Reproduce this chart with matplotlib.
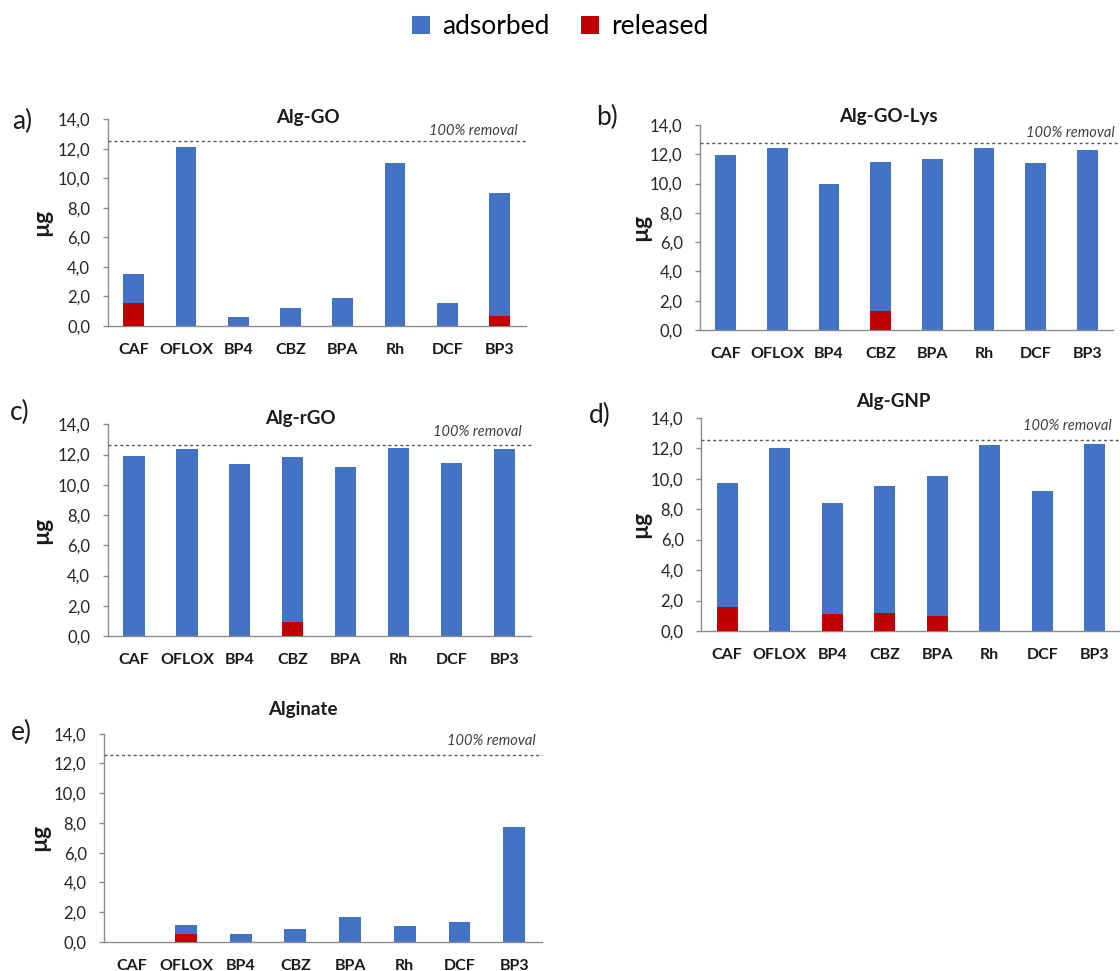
import matplotlib
matplotlib.use("Agg")
import matplotlib.pyplot as plt
from matplotlib.ticker import FuncFormatter
from matplotlib.patches import Patch

plt.rcParams['font.family'] = ['Lato', 'DejaVu Sans']

# ---------------- data ----------------
categories = ["CAF", "OFLOX", "BP4", "CBZ", "BPA", "Rh", "DCF", "BP3"]

panel_letters = ["a)", "b)", "c)", "d)", "e)"]
panel_titles = ["Alg-GO", "Alg-GO-Lys", "Alg-rGO", "Alg-GNP", "Alginate"]

# total adsorbed amount (µg)
adsorbed_a = [3.52, 12.12, 0.63, 1.20, 1.92, 11.02, 1.58, 9.03]
adsorbed_b = [11.95, 12.44, 9.98, 11.46, 11.71, 12.44, 11.42, 12.28]
adsorbed_c = [11.90, 12.37, 11.35, 11.86, 11.16, 12.46, 11.46, 12.37]
adsorbed_d = [9.74, 11.99, 8.38, 9.49, 10.20, 12.19, 9.17, 12.25]
adsorbed_e = [0.00, 1.14, 0.54, 0.90, 1.66, 1.05, 1.32, 7.75]

# released amount (µg)
released_a = [1.58, 0, 0, 0, 0, 0, 0, 0.68]
released_b = [0, 0, 0, 1.30, 0, 0, 0, 0]
released_c = [0, 0, 0, 0.95, 0, 0, 0, 0]
released_d = [1.55, 0, 1.12, 1.16, 0.98, 0, 0, 0]
released_e = [0, 0.54, 0, 0, 0, 0, 0, 0]

# 100% removal reference level (µg)
removal_level = [12.5, 12.75, 12.6, 12.55, 12.57]

yticks = [0, 2, 4, 6, 8, 10, 12, 14]

adsorbed_all = [adsorbed_a, adsorbed_b, adsorbed_c, adsorbed_d, adsorbed_e]
released_all = [released_a, released_b, released_c, released_d, released_e]

# ---------------- layout (pixels) ----------------
W, H = 1120, 971
BLUE = "#4472C4"
RED = "#C00000"
AXCOL = "#8C8C8C"

# (left, top, right, bottom) of plot areas in pixels
rects = [(107.6, 119.3, 525.7, 326.0),
         (700.0, 125.0, 1113.0, 330.0),
         (107.6, 424.3, 530.8, 636.0),
         (701.0, 417.7, 1121.0, 631.0),
         (104.0, 733.7, 541.5, 942.0)]
title_pos = [(308, 118), (888, 116.7), (300, 418.3), (893, 401), (303, 710)]
letter_pos = [(22, 121), (607, 117), (20, 412), (600, 415), (21, 732)]
removal_txt = [(518, 131), (1115, 132.7), (521.5, 432.3), (1111.7, 426), (536, 741)]
ylabel_x = [42, 641, 42, 641, 40]
dash_extend = [1.0, 1.02, 1.0, 1.0, 1.0]

fig = plt.figure(figsize=(W / 100, H / 100), dpi=100)

def fx(x):
    return x / W

def fy(y):
    return 1 - y / H

fmt = FuncFormatter(lambda v, p: f"{v:.1f}".replace(".", ","))

for i in range(5):
    l, t, r, b = rects[i]
    ax = fig.add_axes([fx(l), fy(b), (r - l) / W, (b - t) / H])
    x = list(range(len(categories)))
    ax.bar(x, adsorbed_all[i], width=0.4, color=BLUE, zorder=2)
    ax.bar(x, released_all[i], width=0.4, color=RED, zorder=3)
    ax.set_xlim(-0.5, len(categories) - 0.5)
    ax.set_ylim(0, 14)
    ax.set_yticks(yticks)
    ax.yaxis.set_major_formatter(fmt)
    ax.set_xticks(x)
    ax.set_xticklabels(categories, fontsize=11.5, fontweight="bold", color="#1a1a1a")
    for s in ["top", "right"]:
        ax.spines[s].set_visible(False)
    for s in ["left", "bottom"]:
        ax.spines[s].set_color(AXCOL)
        ax.spines[s].set_linewidth(1.0)
    ax.tick_params(axis="x", length=0, pad=12)
    ax.tick_params(axis="y", length=3.5, width=1.0, color=AXCOL, pad=9,
                   labelsize=12, labelcolor="#262626")
    ax.axhline(removal_level[i], xmin=0, xmax=dash_extend[i], color="#595959",
               lw=1.0, ls=(0, (2.2, 2.0)), zorder=4, clip_on=False)
    # y label
    ax.text((ylabel_x[i] - l) / (r - l), 0.5, "µg", transform=ax.transAxes,
            rotation=90, ha="center", va="center", fontsize=16.5, fontweight="bold",
            color="#1a1a1a")
    # titles & letters
    fig.text(fx(title_pos[i][0]), fy(title_pos[i][1]), panel_titles[i],
             ha="center", va="center", fontsize=13.5, fontweight="bold", color="#1a1a1a")
    fig.text(fx(letter_pos[i][0]), fy(letter_pos[i][1]), panel_letters[i],
             ha="center", va="center", fontsize=19, color="#1a1a1a")
    fig.text(fx(removal_txt[i][0]), fy(removal_txt[i][1]), "100% removal",
             ha="right", va="center", fontsize=10.5, style="italic", color="#404040")

handles = [Patch(facecolor=BLUE, label="adsorbed"), Patch(facecolor=RED, label="released")]
fig.legend(handles=handles, loc="center", bbox_to_anchor=(0.5, fy(27)), ncol=2,
           frameon=False, fontsize=19, handlelength=0.7, handleheight=0.7,
           handletextpad=0.45, columnspacing=1.2)

fig.savefig("out.png", dpi=100)
